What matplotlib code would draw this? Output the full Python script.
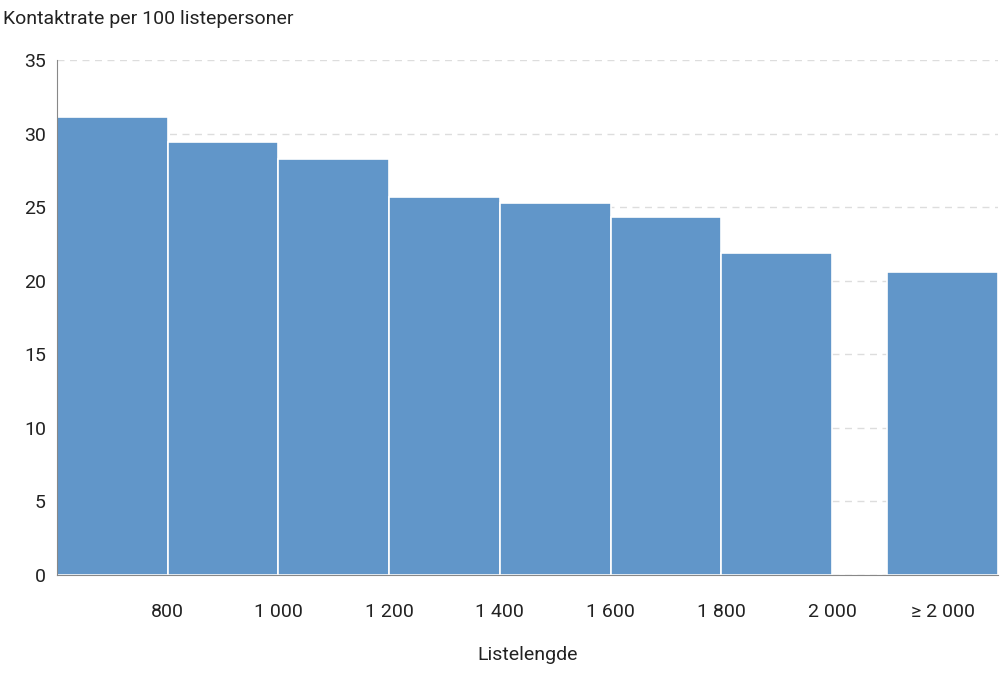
import matplotlib
matplotlib.use("Agg")
import matplotlib.pyplot as plt

plt.rcParams['font.family'] = ['Roboto', 'DejaVu Sans']

left_edges = [600, 800, 1000, 1200, 1400, 1600, 1800, 2100]
values = [31.1, 29.4, 28.3, 25.7, 25.3, 24.3, 21.9, 20.6]
tick_pos = [800, 1000, 1200, 1400, 1600, 1800, 2000, 2200]
tick_labels = ["800", "1 000", "1 200", "1 400", "1 600", "1 800", "2 000", "≥ 2 000"]

fig = plt.figure(figsize=(10, 6.74), dpi=100)
ax = fig.add_axes([0.057, 0.147, 0.941, 0.764])
ax.bar(left_edges, values, width=200, align='edge', color='#6196C9',
       edgecolor='white', linewidth=1.2, zorder=2)
ax.set_xlim(600, 2300)
ax.set_ylim(0, 35)
ax.set_yticks(range(0, 36, 5))
ax.set_xticks(tick_pos)
ax.set_xticklabels(tick_labels)
ax.yaxis.grid(True, linestyle=(0, (5, 4)), color='#dddddd', linewidth=1, zorder=0)
ax.set_axisbelow(True)
for s in ['top', 'right']:
    ax.spines[s].set_visible(False)
for s in ['left', 'bottom']:
    ax.spines[s].set_color('#888888')
ax.tick_params(axis='both', length=0, labelsize=14, colors='#222222')
ax.tick_params(axis='x', pad=20)
ax.tick_params(axis='y', pad=8)
ax.set_xlabel("Listelengde", fontsize=14, labelpad=18, color='#222222')
fig.text(0.003, 0.985, "Kontaktrate per 100 listepersoner", fontsize=14,
         va='top', ha='left', color='#222222')
fig.savefig("out.png", dpi=100)
